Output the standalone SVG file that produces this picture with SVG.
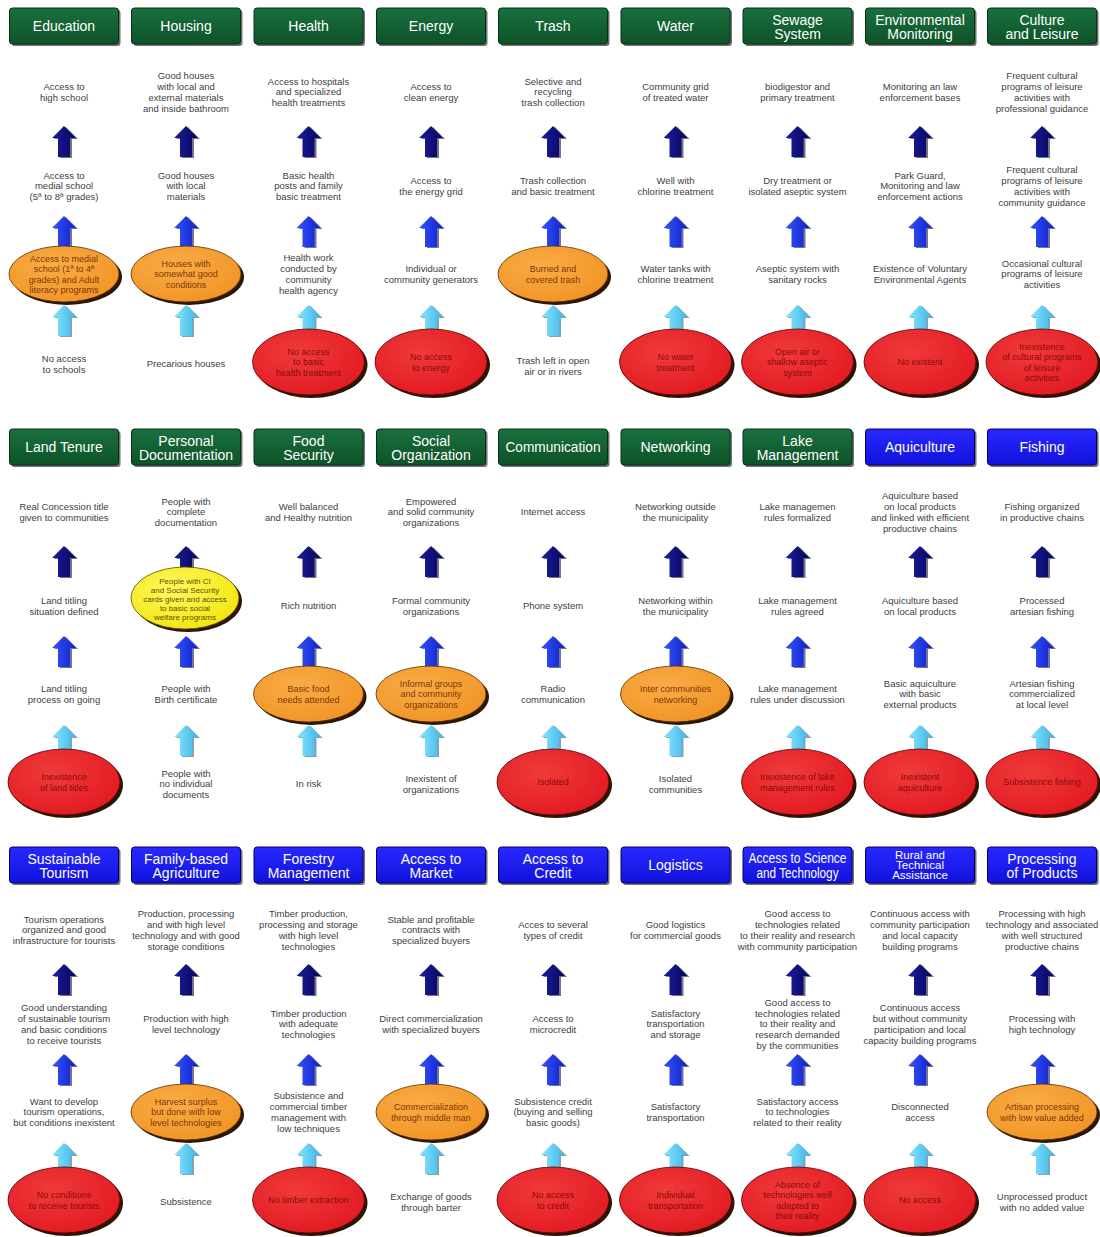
<svg xmlns="http://www.w3.org/2000/svg" xmlns:xlink="http://www.w3.org/1999/xlink" width="1100" height="1237" viewBox="0 0 1100 1237">
<style>
.t{font-family:"Liberation Sans",Arial,sans-serif;font-size:9.5px;fill:#404040;text-anchor:middle}
.h{font-family:"Liberation Sans",Arial,sans-serif;font-size:14px;fill:#fff;text-anchor:middle}
.h3{font-size:11.5px}
.et{font-family:"Liberation Sans",Arial,sans-serif;font-size:9px;text-anchor:middle}
.eo{fill:#7e3608}
.er{fill:#8c0a0a}
.ey{fill:#5e5000;font-size:8px}
.hg{fill:url(#gg);stroke:#06301a;stroke-width:1}
.hb{fill:url(#gb);stroke:#00006a;stroke-width:1}
.hs{fill:#111;opacity:.6}
.sh{fill:#2b1606}
.o{fill:url(#go);stroke:#5a3000;stroke-width:.8}
.r{fill:url(#gr);stroke:#5a0000;stroke-width:.8}
.y{fill:url(#gy);stroke:#5a5000;stroke-width:.8}
</style>
<defs>
<linearGradient id="gg" x1="0" y1="0" x2="0" y2="1"><stop offset="0" stop-color="#1a703e"/><stop offset="1" stop-color="#0d5328"/></linearGradient>
<linearGradient id="gb" x1="0" y1="0" x2="0" y2="1"><stop offset="0" stop-color="#2828ff"/><stop offset="1" stop-color="#1212dc"/></linearGradient>
<radialGradient id="go" cx="0.4" cy="0.35" r="0.75"><stop offset="0" stop-color="#f9ac45"/><stop offset="1" stop-color="#f09324"/></radialGradient>
<radialGradient id="gr" cx="0.4" cy="0.35" r="0.75"><stop offset="0" stop-color="#f03a3a"/><stop offset="1" stop-color="#e01820"/></radialGradient>
<radialGradient id="gy" cx="0.4" cy="0.35" r="0.75"><stop offset="0" stop-color="#fff860"/><stop offset="1" stop-color="#f2e408"/></radialGradient>
<linearGradient id="fd" x1="0" y1="0" x2="1" y2="0"><stop offset="0" stop-color="#1c1ca0"/><stop offset="1" stop-color="#06065a"/></linearGradient>
<linearGradient id="fb" x1="0" y1="0" x2="1" y2="0"><stop offset="0" stop-color="#3454ff"/><stop offset="1" stop-color="#1020c4"/></linearGradient>
<linearGradient id="fl" x1="0" y1="0" x2="1" y2="0"><stop offset="0" stop-color="#8ae6ff"/><stop offset="1" stop-color="#3cb6e6"/></linearGradient>
<g id="ad"><polygon points="2,1 14,13 8,13 8,32 -4,32 -4,13 -10,13" fill="#00002a" opacity=".55"/><polygon points="0,0 12,12 6,12 6,31 -6,31 -6,12 -12,12" fill="url(#fd)"/></g>
<g id="ab"><polygon points="2,1 14,13 8,13 8,32 -4,32 -4,13 -10,13" fill="#000050" opacity=".55"/><polygon points="0,0 12,12 6,12 6,31 -6,31 -6,12 -12,12" fill="url(#fb)"/></g>
<g id="al"><polygon points="2,1 14,13 8,13 8,32 -4,32 -4,13 -10,13" fill="#135a80" opacity=".55"/><polygon points="0,0 12,12 6,12 6,31 -6,31 -6,12 -12,12" fill="url(#fl)"/></g>
</defs>
<rect width="1100" height="1237" fill="#fff"/>

<g id="connectors">
<use href="#ad" x="64" y="126"/><use href="#ab" x="64" y="216"/><use href="#al" x="64" y="305"/>
<use href="#ad" x="186" y="126"/><use href="#ab" x="186" y="216"/><use href="#al" x="186" y="305"/>
<use href="#ad" x="308.5" y="126"/><use href="#ab" x="308.5" y="216"/><use href="#al" x="308.5" y="305"/>
<use href="#ad" x="431" y="126"/><use href="#ab" x="431" y="216"/><use href="#al" x="431" y="305"/>
<use href="#ad" x="553" y="126"/><use href="#ab" x="553" y="216"/><use href="#al" x="553" y="305"/>
<use href="#ad" x="675.5" y="126"/><use href="#ab" x="675.5" y="216"/><use href="#al" x="675.5" y="305"/>
<use href="#ad" x="797.5" y="126"/><use href="#ab" x="797.5" y="216"/><use href="#al" x="797.5" y="305"/>
<use href="#ad" x="920" y="126"/><use href="#ab" x="920" y="216"/><use href="#al" x="920" y="305"/>
<use href="#ad" x="1042" y="126"/><use href="#ab" x="1042" y="216"/><use href="#al" x="1042" y="305"/>
<use href="#ad" x="64" y="546"/><use href="#ab" x="64" y="636"/><use href="#al" x="64" y="725"/>
<use href="#ad" x="186" y="546"/><use href="#ab" x="186" y="636"/><use href="#al" x="186" y="725"/>
<use href="#ad" x="308.5" y="546"/><use href="#ab" x="308.5" y="636"/><use href="#al" x="308.5" y="725"/>
<use href="#ad" x="431" y="546"/><use href="#ab" x="431" y="636"/><use href="#al" x="431" y="725"/>
<use href="#ad" x="553" y="546"/><use href="#ab" x="553" y="636"/><use href="#al" x="553" y="725"/>
<use href="#ad" x="675.5" y="546"/><use href="#ab" x="675.5" y="636"/><use href="#al" x="675.5" y="725"/>
<use href="#ad" x="797.5" y="546"/><use href="#ab" x="797.5" y="636"/><use href="#al" x="797.5" y="725"/>
<use href="#ad" x="920" y="546"/><use href="#ab" x="920" y="636"/><use href="#al" x="920" y="725"/>
<use href="#ad" x="1042" y="546"/><use href="#ab" x="1042" y="636"/><use href="#al" x="1042" y="725"/>
<use href="#ad" x="64" y="964"/><use href="#ab" x="64" y="1054"/><use href="#al" x="64" y="1143"/>
<use href="#ad" x="186" y="964"/><use href="#ab" x="186" y="1054"/><use href="#al" x="186" y="1143"/>
<use href="#ad" x="308.5" y="964"/><use href="#ab" x="308.5" y="1054"/><use href="#al" x="308.5" y="1143"/>
<use href="#ad" x="431" y="964"/><use href="#ab" x="431" y="1054"/><use href="#al" x="431" y="1143"/>
<use href="#ad" x="553" y="964"/><use href="#ab" x="553" y="1054"/><use href="#al" x="553" y="1143"/>
<use href="#ad" x="675.5" y="964"/><use href="#ab" x="675.5" y="1054"/><use href="#al" x="675.5" y="1143"/>
<use href="#ad" x="797.5" y="964"/><use href="#ab" x="797.5" y="1054"/><use href="#al" x="797.5" y="1143"/>
<use href="#ad" x="920" y="964"/><use href="#ab" x="920" y="1054"/><use href="#al" x="920" y="1143"/>
<use href="#ad" x="1042" y="964"/><use href="#ab" x="1042" y="1054"/><use href="#al" x="1042" y="1143"/>
</g>

<!-- ROW 1 -->
<g id="h-education"><rect class="hs" x="11.5" y="10" width="109" height="36" rx="3"/><rect class="hg" x="9.5" y="8" width="109" height="36" rx="3"/><text class="h" x="64" y="31">Education</text></g>
<g id="education-4"><text class="t" x="64" y="90">Access to<tspan x="64" dy="10.8">high school</tspan></text></g>
<g id="education-3"><text class="t" x="64" y="178.6">Access to<tspan x="64" dy="10.8">medial school</tspan><tspan x="64" dy="10.8">(5ª to 8ª grades)</tspan></text></g>
<g id="education-2"><ellipse class="sh" cx="67" cy="277" rx="55" ry="28"/><ellipse class="o" cx="64" cy="274" rx="55" ry="28"/><text class="et eo" x="64" y="261.5">Access to medial<tspan x="64" dy="10.5">school (1ª to 4ª</tspan><tspan x="64" dy="10.5">grades) and Adult</tspan><tspan x="64" dy="10.5">literacy programs</tspan></text></g>
<g id="education-1"><text class="t" x="64" y="362">No access<tspan x="64" dy="10.8">to schools</tspan></text></g>

<g id="h-housing"><rect class="hs" x="133.5" y="10" width="109" height="36" rx="3"/><rect class="hg" x="131.5" y="8" width="109" height="36" rx="3"/><text class="h" x="186" y="31">Housing</text></g>
<g id="housing-4"><text class="t" x="186" y="79.2">Good houses<tspan x="186" dy="10.8">with local and</tspan><tspan x="186" dy="10.8">external materials</tspan><tspan x="186" dy="10.8">and inside bathroom</tspan></text></g>
<g id="housing-3"><text class="t" x="186" y="178.6">Good houses<tspan x="186" dy="10.8">with local</tspan><tspan x="186" dy="10.8">materials</tspan></text></g>
<g id="housing-2"><ellipse class="sh" cx="189" cy="277" rx="55" ry="28"/><ellipse class="o" cx="186" cy="274" rx="55" ry="28"/><text class="et eo" x="186" y="266.7">Houses with<tspan x="186" dy="10.5">somewhat good</tspan><tspan x="186" dy="10.5">conditions</tspan></text></g>
<g id="housing-1"><text class="t" x="186" y="367.4">Precarious houses</text></g>

<g id="h-health"><rect class="hs" x="256" y="10" width="109" height="36" rx="3"/><rect class="hg" x="254" y="8" width="109" height="36" rx="3"/><text class="h" x="308.5" y="31">Health</text></g>
<g id="health-4"><text class="t" x="308.5" y="84.6">Access to hospitals<tspan x="308.5" dy="10.8">and specialized</tspan><tspan x="308.5" dy="10.8">health treatments</tspan></text></g>
<g id="health-3"><text class="t" x="308.5" y="178.6">Basic health<tspan x="308.5" dy="10.8">posts and family</tspan><tspan x="308.5" dy="10.8">basic treatment</tspan></text></g>
<g id="health-2"><text class="t" x="308.5" y="261.2">Health work<tspan x="308.5" dy="10.8">conducted by</tspan><tspan x="308.5" dy="10.8">community</tspan><tspan x="308.5" dy="10.8">health agency</tspan></text></g>
<g id="health-1"><ellipse class="sh" cx="311.5" cy="365" rx="56" ry="33"/><ellipse class="r" cx="308.5" cy="362" rx="56" ry="33"/><text class="et er" x="308.5" y="354.7">No access<tspan x="308.5" dy="10.5">to basic</tspan><tspan x="308.5" dy="10.5">health treatment</tspan></text></g>

<g id="h-energy"><rect class="hs" x="378.5" y="10" width="109" height="36" rx="3"/><rect class="hg" x="376.5" y="8" width="109" height="36" rx="3"/><text class="h" x="431" y="31">Energy</text></g>
<g id="energy-4"><text class="t" x="431" y="90">Access to<tspan x="431" dy="10.8">clean energy</tspan></text></g>
<g id="energy-3"><text class="t" x="431" y="184">Access to<tspan x="431" dy="10.8">the energy grid</tspan></text></g>
<g id="energy-2"><text class="t" x="431" y="272">Individual or<tspan x="431" dy="10.8">community generators</tspan></text></g>
<g id="energy-1"><ellipse class="sh" cx="434" cy="365" rx="56" ry="33"/><ellipse class="r" cx="431" cy="362" rx="56" ry="33"/><text class="et er" x="431" y="360">No access<tspan x="431" dy="10.5">to energy</tspan></text></g>

<g id="h-trash"><rect class="hs" x="500.5" y="10" width="109" height="36" rx="3"/><rect class="hg" x="498.5" y="8" width="109" height="36" rx="3"/><text class="h" x="553" y="31">Trash</text></g>
<g id="trash-4"><text class="t" x="553" y="84.6">Selective and<tspan x="553" dy="10.8">recycling</tspan><tspan x="553" dy="10.8">trash collection</tspan></text></g>
<g id="trash-3"><text class="t" x="553" y="184">Trash collection<tspan x="553" dy="10.8">and basic treatment</tspan></text></g>
<g id="trash-2"><ellipse class="sh" cx="556" cy="277" rx="55" ry="28"/><ellipse class="o" cx="553" cy="274" rx="55" ry="28"/><text class="et eo" x="553" y="272">Burned and<tspan x="553" dy="10.5">covered trash</tspan></text></g>
<g id="trash-1"><text class="t" x="553" y="364">Trash left in open<tspan x="553" dy="10.8">air or in rivers</tspan></text></g>

<g id="h-water"><rect class="hs" x="623" y="10" width="109" height="36" rx="3"/><rect class="hg" x="621" y="8" width="109" height="36" rx="3"/><text class="h" x="675.5" y="31">Water</text></g>
<g id="water-4"><text class="t" x="675.5" y="90">Community grid<tspan x="675.5" dy="10.8">of treated water</tspan></text></g>
<g id="water-3"><text class="t" x="675.5" y="184">Well with<tspan x="675.5" dy="10.8">chlorine treatment</tspan></text></g>
<g id="water-2"><text class="t" x="675.5" y="272">Water tanks with<tspan x="675.5" dy="10.8">chlorine treatment</tspan></text></g>
<g id="water-1"><ellipse class="sh" cx="678.5" cy="365" rx="56" ry="33"/><ellipse class="r" cx="675.5" cy="362" rx="56" ry="33"/><text class="et er" x="675.5" y="360">No water<tspan x="675.5" dy="10.5">treatment</tspan></text></g>

<g id="h-sewage"><rect class="hs" x="745" y="10" width="109" height="36" rx="3"/><rect class="hg" x="743" y="8" width="109" height="36" rx="3"/><text class="h" x="797.5" y="24.5">Sewage<tspan x="797.5" dy="14">System</tspan></text></g>
<g id="sewage-4"><text class="t" x="797.5" y="90">biodigestor and<tspan x="797.5" dy="10.8">primary treatment</tspan></text></g>
<g id="sewage-3"><text class="t" x="797.5" y="184">Dry treatment or<tspan x="797.5" dy="10.8">isolated aseptic system</tspan></text></g>
<g id="sewage-2"><text class="t" x="797.5" y="272">Aseptic system with<tspan x="797.5" dy="10.8">sanitary rocks</tspan></text></g>
<g id="sewage-1"><ellipse class="sh" cx="800.5" cy="365" rx="56" ry="33"/><ellipse class="r" cx="797.5" cy="362" rx="56" ry="33"/><text class="et er" x="797.5" y="354.7">Open air or<tspan x="797.5" dy="10.5">shallow aseptic</tspan><tspan x="797.5" dy="10.5">system</tspan></text></g>

<g id="h-envmon"><rect class="hs" x="867.5" y="10" width="109" height="36" rx="3"/><rect class="hg" x="865.5" y="8" width="109" height="36" rx="3"/><text class="h" x="920" y="24.5">Environmental<tspan x="920" dy="14">Monitoring</tspan></text></g>
<g id="envmon-4"><text class="t" x="920" y="90">Monitoring an law<tspan x="920" dy="10.8">enforcement bases</tspan></text></g>
<g id="envmon-3"><text class="t" x="920" y="178.6">Park Guard,<tspan x="920" dy="10.8">Monitoring and law</tspan><tspan x="920" dy="10.8">enforcement actions</tspan></text></g>
<g id="envmon-2"><text class="t" x="920" y="272">Existence of Voluntary<tspan x="920" dy="10.8">Environmental Agents</tspan></text></g>
<g id="envmon-1"><ellipse class="sh" cx="923" cy="365" rx="56" ry="33"/><ellipse class="r" cx="920" cy="362" rx="56" ry="33"/><text class="et er" x="920" y="365.2">No existent</text></g>

<g id="h-culture"><rect class="hs" x="989.5" y="10" width="109" height="36" rx="3"/><rect class="hg" x="987.5" y="8" width="109" height="36" rx="3"/><text class="h" x="1042" y="24.5">Culture<tspan x="1042" dy="14">and Leisure</tspan></text></g>
<g id="culture-4"><text class="t" x="1042" y="79.2">Frequent cultural<tspan x="1042" dy="10.8">programs of leisure</tspan><tspan x="1042" dy="10.8">activities with</tspan><tspan x="1042" dy="10.8">professional guidance</tspan></text></g>
<g id="culture-3"><text class="t" x="1042" y="173.2">Frequent cultural<tspan x="1042" dy="10.8">programs of leisure</tspan><tspan x="1042" dy="10.8">activities with</tspan><tspan x="1042" dy="10.8">community guidance</tspan></text></g>
<g id="culture-2"><text class="t" x="1042" y="266.6">Occasional cultural<tspan x="1042" dy="10.8">programs of leisure</tspan><tspan x="1042" dy="10.8">activities</tspan></text></g>
<g id="culture-1"><ellipse class="sh" cx="1045" cy="365" rx="56" ry="33"/><ellipse class="r" cx="1042" cy="362" rx="56" ry="33"/><text class="et er" x="1042" y="349.5">Inexistence<tspan x="1042" dy="10.5">of cultural programs</tspan><tspan x="1042" dy="10.5">of leisure</tspan><tspan x="1042" dy="10.5">activities</tspan></text></g>

<!-- ROW 2 -->
<g id="h-land"><rect class="hs" x="11.5" y="431" width="109" height="36" rx="3"/><rect class="hg" x="9.5" y="429" width="109" height="36" rx="3"/><text class="h" x="64" y="452">Land Tenure</text></g>
<g id="land-4"><text class="t" x="64" y="510">Real Concession title<tspan x="64" dy="10.8">given to communities</tspan></text></g>
<g id="land-3"><text class="t" x="64" y="604">Land titling<tspan x="64" dy="10.8">situation defined</tspan></text></g>
<g id="land-2"><text class="t" x="64" y="692">Land titling<tspan x="64" dy="10.8">process on going</tspan></text></g>
<g id="land-1"><ellipse class="sh" cx="67" cy="785" rx="56" ry="33"/><ellipse class="r" cx="64" cy="782" rx="56" ry="33"/><text class="et er" x="64" y="780">Inexistence<tspan x="64" dy="10.5">of land titles</tspan></text></g>

<g id="h-persdoc"><rect class="hs" x="133.5" y="431" width="109" height="36" rx="3"/><rect class="hg" x="131.5" y="429" width="109" height="36" rx="3"/><text class="h" x="186" y="445.5">Personal<tspan x="186" dy="14.5">Documentation</tspan></text></g>
<g id="persdoc-4"><text class="t" x="186" y="504.6">People with<tspan x="186" dy="10.8">complete</tspan><tspan x="186" dy="10.8">documentation</tspan></text></g>
<g id="persdoc-3"><ellipse class="sh" cx="188" cy="601" rx="54" ry="31"/><ellipse class="y" cx="185" cy="598" rx="54" ry="31"/><text class="et ey" x="185" y="584.3">People with CI<tspan x="185" dy="8.8">and Social Security</tspan><tspan x="185" dy="8.8">cards given and access</tspan><tspan x="185" dy="8.8">to basic social</tspan><tspan x="185" dy="8.8">welfare programs</tspan></text></g>
<g id="persdoc-2"><text class="t" x="186" y="692">People with<tspan x="186" dy="10.8">Birth certificate</tspan></text></g>
<g id="persdoc-1"><text class="t" x="186" y="776.6">People with<tspan x="186" dy="10.8">no individual</tspan><tspan x="186" dy="10.8">documents</tspan></text></g>

<g id="h-food"><rect class="hs" x="256" y="431" width="109" height="36" rx="3"/><rect class="hg" x="254" y="429" width="109" height="36" rx="3"/><text class="h" x="308.5" y="445.5">Food<tspan x="308.5" dy="14.5">Security</tspan></text></g>
<g id="food-4"><text class="t" x="308.5" y="510">Well balanced<tspan x="308.5" dy="10.8">and Healthy nutrition</tspan></text></g>
<g id="food-3"><text class="t" x="308.5" y="609.4">Rich nutrition</text></g>
<g id="food-2"><ellipse class="sh" cx="311.5" cy="697" rx="55" ry="28"/><ellipse class="o" cx="308.5" cy="694" rx="55" ry="28"/><text class="et eo" x="308.5" y="692">Basic food<tspan x="308.5" dy="10.5">needs attended</tspan></text></g>
<g id="food-1"><text class="t" x="308.5" y="787.4">In risk</text></g>

<g id="h-socorg"><rect class="hs" x="378.5" y="431" width="109" height="36" rx="3"/><rect class="hg" x="376.5" y="429" width="109" height="36" rx="3"/><text class="h" x="431" y="445.5">Social<tspan x="431" dy="14.5">Organization</tspan></text></g>
<g id="socorg-4"><text class="t" x="431" y="504.6">Empowered<tspan x="431" dy="10.8">and solid community</tspan><tspan x="431" dy="10.8">organizations</tspan></text></g>
<g id="socorg-3"><text class="t" x="431" y="604">Formal community<tspan x="431" dy="10.8">organizations</tspan></text></g>
<g id="socorg-2"><ellipse class="sh" cx="434" cy="697" rx="55" ry="28"/><ellipse class="o" cx="431" cy="694" rx="55" ry="28"/><text class="et eo" x="431" y="686.7">Informal groups<tspan x="431" dy="10.5">and community</tspan><tspan x="431" dy="10.5">organizations</tspan></text></g>
<g id="socorg-1"><text class="t" x="431" y="782">Inexistent of<tspan x="431" dy="10.8">organizations</tspan></text></g>

<g id="h-comm"><rect class="hs" x="500.5" y="431" width="109" height="36" rx="3"/><rect class="hg" x="498.5" y="429" width="109" height="36" rx="3"/><text class="h" x="553" y="452" textLength="95" lengthAdjust="spacingAndGlyphs">Communication</text></g>
<g id="comm-4"><text class="t" x="553" y="515.4">Internet access</text></g>
<g id="comm-3"><text class="t" x="553" y="609.4">Phone system</text></g>
<g id="comm-2"><text class="t" x="553" y="692">Radio<tspan x="553" dy="10.8">communication</tspan></text></g>
<g id="comm-1"><ellipse class="sh" cx="556" cy="785" rx="56" ry="33"/><ellipse class="r" cx="553" cy="782" rx="56" ry="33"/><text class="et er" x="553" y="785.2">Isolated</text></g>

<g id="h-network"><rect class="hs" x="623" y="431" width="109" height="36" rx="3"/><rect class="hg" x="621" y="429" width="109" height="36" rx="3"/><text class="h" x="675.5" y="452">Networking</text></g>
<g id="network-4"><text class="t" x="675.5" y="510">Networking outside<tspan x="675.5" dy="10.8">the municipality</tspan></text></g>
<g id="network-3"><text class="t" x="675.5" y="604">Networking within<tspan x="675.5" dy="10.8">the municipality</tspan></text></g>
<g id="network-2"><ellipse class="sh" cx="678.5" cy="697" rx="55" ry="28"/><ellipse class="o" cx="675.5" cy="694" rx="55" ry="28"/><text class="et eo" x="675.5" y="692">Inter communities<tspan x="675.5" dy="10.5">networking</tspan></text></g>
<g id="network-1"><text class="t" x="675.5" y="782">Isolated<tspan x="675.5" dy="10.8">communities</tspan></text></g>

<g id="h-lake"><rect class="hs" x="745" y="431" width="109" height="36" rx="3"/><rect class="hg" x="743" y="429" width="109" height="36" rx="3"/><text class="h" x="797.5" y="445.5">Lake<tspan x="797.5" dy="14.5">Management</tspan></text></g>
<g id="lake-4"><text class="t" x="797.5" y="510">Lake managemen<tspan x="797.5" dy="10.8">rules formalized</tspan></text></g>
<g id="lake-3"><text class="t" x="797.5" y="604">Lake management<tspan x="797.5" dy="10.8">rules agreed</tspan></text></g>
<g id="lake-2"><text class="t" x="797.5" y="692">Lake management<tspan x="797.5" dy="10.8">rules under discussion</tspan></text></g>
<g id="lake-1"><ellipse class="sh" cx="800.5" cy="785" rx="56" ry="33"/><ellipse class="r" cx="797.5" cy="782" rx="56" ry="33"/><text class="et er" x="797.5" y="780">Inexistence of lake<tspan x="797.5" dy="10.5">management rules</tspan></text></g>

<g id="h-aqui"><rect class="hs" x="867.5" y="431" width="109" height="36" rx="3"/><rect class="hb" x="865.5" y="429" width="109" height="36" rx="3"/><text class="h" x="920" y="452">Aquiculture</text></g>
<g id="aqui-4"><text class="t" x="920" y="499.2">Aquiculture based<tspan x="920" dy="10.8">on local products</tspan><tspan x="920" dy="10.8">and linked with efficient</tspan><tspan x="920" dy="10.8">productive chains</tspan></text></g>
<g id="aqui-3"><text class="t" x="920" y="604">Aquiculture based<tspan x="920" dy="10.8">on local products</tspan></text></g>
<g id="aqui-2"><text class="t" x="920" y="686.6">Basic aquiculture<tspan x="920" dy="10.8">with basic</tspan><tspan x="920" dy="10.8">external products</tspan></text></g>
<g id="aqui-1"><ellipse class="sh" cx="923" cy="785" rx="56" ry="33"/><ellipse class="r" cx="920" cy="782" rx="56" ry="33"/><text class="et er" x="920" y="780">Inexistent<tspan x="920" dy="10.5">aquiculture</tspan></text></g>

<g id="h-fishing"><rect class="hs" x="989.5" y="431" width="109" height="36" rx="3"/><rect class="hb" x="987.5" y="429" width="109" height="36" rx="3"/><text class="h" x="1042" y="452">Fishing</text></g>
<g id="fishing-4"><text class="t" x="1042" y="510">Fishing organized<tspan x="1042" dy="10.8">in productive chains</tspan></text></g>
<g id="fishing-3"><text class="t" x="1042" y="604">Processed<tspan x="1042" dy="10.8">artesian fishing</tspan></text></g>
<g id="fishing-2"><text class="t" x="1042" y="686.6">Artesian fishing<tspan x="1042" dy="10.8">commercialized</tspan><tspan x="1042" dy="10.8">at local level</tspan></text></g>
<g id="fishing-1"><ellipse class="sh" cx="1045" cy="785" rx="56" ry="33"/><ellipse class="r" cx="1042" cy="782" rx="56" ry="33"/><text class="et er" x="1042" y="785.2">Subsistence fishing</text></g>

<!-- ROW 3 -->
<g id="h-tourism"><rect class="hs" x="11.5" y="849" width="109" height="36" rx="3"/><rect class="hb" x="9.5" y="847" width="109" height="36" rx="3"/><text class="h" x="64" y="863.5">Sustainable<tspan x="64" dy="14.5">Tourism</tspan></text></g>
<g id="tourism-4"><text class="t" x="64" y="922.6">Tourism operations<tspan x="64" dy="10.8">organized and good</tspan><tspan x="64" dy="10.8">infrastructure for tourists</tspan></text></g>
<g id="tourism-3"><text class="t" x="64" y="1011.2">Good understanding<tspan x="64" dy="10.8">of sustainable tourism</tspan><tspan x="64" dy="10.8">and basic conditions</tspan><tspan x="64" dy="10.8">to receive tourists</tspan></text></g>
<g id="tourism-2"><text class="t" x="64" y="1104.6">Want to develop<tspan x="64" dy="10.8">tourism operations,</tspan><tspan x="64" dy="10.8">but conditions inexistent</tspan></text></g>
<g id="tourism-1"><ellipse class="sh" cx="67" cy="1203" rx="56" ry="33"/><ellipse class="r" cx="64" cy="1200" rx="56" ry="33"/><text class="et er" x="64" y="1198">No conditions<tspan x="64" dy="10.5">to receive tourists</tspan></text></g>

<g id="h-agri"><rect class="hs" x="133.5" y="849" width="109" height="36" rx="3"/><rect class="hb" x="131.5" y="847" width="109" height="36" rx="3"/><text class="h" x="186" y="863.5">Family-based<tspan x="186" dy="14.5">Agriculture</tspan></text></g>
<g id="agri-4"><text class="t" x="186" y="917.2">Production, processing<tspan x="186" dy="10.8">and with high level</tspan><tspan x="186" dy="10.8">technology and with good</tspan><tspan x="186" dy="10.8">storage conditions</tspan></text></g>
<g id="agri-3"><text class="t" x="186" y="1022">Production with high<tspan x="186" dy="10.8">level technology</tspan></text></g>
<g id="agri-2"><ellipse class="sh" cx="189" cy="1115" rx="55" ry="28"/><ellipse class="o" cx="186" cy="1112" rx="55" ry="28"/><text class="et eo" x="186" y="1104.7">Harvest surplus<tspan x="186" dy="10.5">but done with low</tspan><tspan x="186" dy="10.5">level technologies</tspan></text></g>
<g id="agri-1"><text class="t" x="186" y="1205.4">Subsistence</text></g>

<g id="h-forestry"><rect class="hs" x="256" y="849" width="109" height="36" rx="3"/><rect class="hb" x="254" y="847" width="109" height="36" rx="3"/><text class="h" x="308.5" y="863.5">Forestry<tspan x="308.5" dy="14.5">Management</tspan></text></g>
<g id="forestry-4"><text class="t" x="308.5" y="917.2">Timber production,<tspan x="308.5" dy="10.8">processing and storage</tspan><tspan x="308.5" dy="10.8">with high level</tspan><tspan x="308.5" dy="10.8">technologies</tspan></text></g>
<g id="forestry-3"><text class="t" x="308.5" y="1016.6">Timber production<tspan x="308.5" dy="10.8">with adequate</tspan><tspan x="308.5" dy="10.8">technologies</tspan></text></g>
<g id="forestry-2"><text class="t" x="308.5" y="1099.2">Subsistence and<tspan x="308.5" dy="10.8">commercial timber</tspan><tspan x="308.5" dy="10.8">management with</tspan><tspan x="308.5" dy="10.8">low techniques</tspan></text></g>
<g id="forestry-1"><ellipse class="sh" cx="311.5" cy="1203" rx="56" ry="33"/><ellipse class="r" cx="308.5" cy="1200" rx="56" ry="33"/><text class="et er" x="308.5" y="1203.2">No timber extraction</text></g>

<g id="h-market"><rect class="hs" x="378.5" y="849" width="109" height="36" rx="3"/><rect class="hb" x="376.5" y="847" width="109" height="36" rx="3"/><text class="h" x="431" y="863.5">Access to<tspan x="431" dy="14.5">Market</tspan></text></g>
<g id="market-4"><text class="t" x="431" y="922.6">Stable and profitable<tspan x="431" dy="10.8">contracts with</tspan><tspan x="431" dy="10.8">specialized buyers</tspan></text></g>
<g id="market-3"><text class="t" x="431" y="1022">Direct commercialization<tspan x="431" dy="10.8">with specialized buyers</tspan></text></g>
<g id="market-2"><ellipse class="sh" cx="434" cy="1115" rx="55" ry="28"/><ellipse class="o" cx="431" cy="1112" rx="55" ry="28"/><text class="et eo" x="431" y="1110">Commercialization<tspan x="431" dy="10.5">through middle man</tspan></text></g>
<g id="market-1"><text class="t" x="431" y="1200">Exchange of goods<tspan x="431" dy="10.8">through barter</tspan></text></g>

<g id="h-credit"><rect class="hs" x="500.5" y="849" width="109" height="36" rx="3"/><rect class="hb" x="498.5" y="847" width="109" height="36" rx="3"/><text class="h" x="553" y="863.5">Access to<tspan x="553" dy="14.5">Credit</tspan></text></g>
<g id="credit-4"><text class="t" x="553" y="928">Acces to several<tspan x="553" dy="10.8">types of credit</tspan></text></g>
<g id="credit-3"><text class="t" x="553" y="1022">Access to<tspan x="553" dy="10.8">microcredit</tspan></text></g>
<g id="credit-2"><text class="t" x="553" y="1104.6">Subsistence credit<tspan x="553" dy="10.8">(buying and selling</tspan><tspan x="553" dy="10.8">basic goods)</tspan></text></g>
<g id="credit-1"><ellipse class="sh" cx="556" cy="1203" rx="56" ry="33"/><ellipse class="r" cx="553" cy="1200" rx="56" ry="33"/><text class="et er" x="553" y="1198">No access<tspan x="553" dy="10.5">to credit</tspan></text></g>

<g id="h-logistics"><rect class="hs" x="623" y="849" width="109" height="36" rx="3"/><rect class="hb" x="621" y="847" width="109" height="36" rx="3"/><text class="h" x="675.5" y="870">Logistics</text></g>
<g id="logistics-4"><text class="t" x="675.5" y="928">Good logistics<tspan x="675.5" dy="10.8">for commercial goods</tspan></text></g>
<g id="logistics-3"><text class="t" x="675.5" y="1016.6">Satisfactory<tspan x="675.5" dy="10.8">transportation</tspan><tspan x="675.5" dy="10.8">and storage</tspan></text></g>
<g id="logistics-2"><text class="t" x="675.5" y="1110">Satisfactory<tspan x="675.5" dy="10.8">transportation</tspan></text></g>
<g id="logistics-1"><ellipse class="sh" cx="678.5" cy="1203" rx="56" ry="33"/><ellipse class="r" cx="675.5" cy="1200" rx="56" ry="33"/><text class="et er" x="675.5" y="1198">Individual<tspan x="675.5" dy="10.5">transportation</tspan></text></g>

<g id="h-science"><rect class="hs" x="745" y="849" width="109" height="36" rx="3"/><rect class="hb" x="743" y="847" width="109" height="36" rx="3"/><text class="h" x="797.5" y="863" textLength="98" lengthAdjust="spacingAndGlyphs">Access to Science</text><text class="h" x="797.5" y="877.5" textLength="82" lengthAdjust="spacingAndGlyphs">and Technology</text></g>
<g id="science-4"><text class="t" x="797.5" y="917.2">Good access to<tspan x="797.5" dy="10.8">technologies related</tspan><tspan x="797.5" dy="10.8">to their reality and research</tspan><tspan x="797.5" dy="10.8">with community participation</tspan></text></g>
<g id="science-3"><text class="t" x="797.5" y="1005.8">Good access to<tspan x="797.5" dy="10.8">technologies related</tspan><tspan x="797.5" dy="10.8">to their reality and</tspan><tspan x="797.5" dy="10.8">research demanded</tspan><tspan x="797.5" dy="10.8">by the communities</tspan></text></g>
<g id="science-2"><text class="t" x="797.5" y="1104.6">Satisfactory access<tspan x="797.5" dy="10.8">to technologies</tspan><tspan x="797.5" dy="10.8">related to their reality</tspan></text></g>
<g id="science-1"><ellipse class="sh" cx="800.5" cy="1203" rx="56" ry="33"/><ellipse class="r" cx="797.5" cy="1200" rx="56" ry="33"/><text class="et er" x="797.5" y="1187.5">Absence of<tspan x="797.5" dy="10.5">technologies well</tspan><tspan x="797.5" dy="10.5">adapted to</tspan><tspan x="797.5" dy="10.5">their reality</tspan></text></g>

<g id="h-rural"><rect class="hs" x="867.5" y="849" width="109" height="36" rx="3"/><rect class="hb" x="865.5" y="847" width="109" height="36" rx="3"/><text class="h h3" x="920" y="859">Rural and<tspan x="920" dy="10">Technical</tspan><tspan x="920" dy="10">Assistance</tspan></text></g>
<g id="rural-4"><text class="t" x="920" y="917.2">Continuous access with<tspan x="920" dy="10.8">community participation</tspan><tspan x="920" dy="10.8">and local capacity</tspan><tspan x="920" dy="10.8">building programs</tspan></text></g>
<g id="rural-3"><text class="t" x="920" y="1011.2">Continuous access<tspan x="920" dy="10.8">but without community</tspan><tspan x="920" dy="10.8">participation and local</tspan><tspan x="920" dy="10.8">capacity building programs</tspan></text></g>
<g id="rural-2"><text class="t" x="920" y="1110">Disconnected<tspan x="920" dy="10.8">access</tspan></text></g>
<g id="rural-1"><ellipse class="sh" cx="923" cy="1203" rx="56" ry="33"/><ellipse class="r" cx="920" cy="1200" rx="56" ry="33"/><text class="et er" x="920" y="1203.2">No access</text></g>

<g id="h-processing"><rect class="hs" x="989.5" y="849" width="109" height="36" rx="3"/><rect class="hb" x="987.5" y="847" width="109" height="36" rx="3"/><text class="h" x="1042" y="863.5">Processing<tspan x="1042" dy="14.5">of Products</tspan></text></g>
<g id="processing-4"><text class="t" x="1042" y="917.2">Processing with high<tspan x="1042" dy="10.8">technology and associated</tspan><tspan x="1042" dy="10.8">with well structured</tspan><tspan x="1042" dy="10.8">productive chains</tspan></text></g>
<g id="processing-3"><text class="t" x="1042" y="1022">Processing with<tspan x="1042" dy="10.8">high technology</tspan></text></g>
<g id="processing-2"><ellipse class="sh" cx="1045" cy="1115" rx="55" ry="28"/><ellipse class="o" cx="1042" cy="1112" rx="55" ry="28"/><text class="et eo" x="1042" y="1110">Artisan processing<tspan x="1042" dy="10.5">with low value added</tspan></text></g>
<g id="processing-1"><text class="t" x="1042" y="1200">Unprocessed product<tspan x="1042" dy="10.8">with no added value</tspan></text></g>
</svg>
